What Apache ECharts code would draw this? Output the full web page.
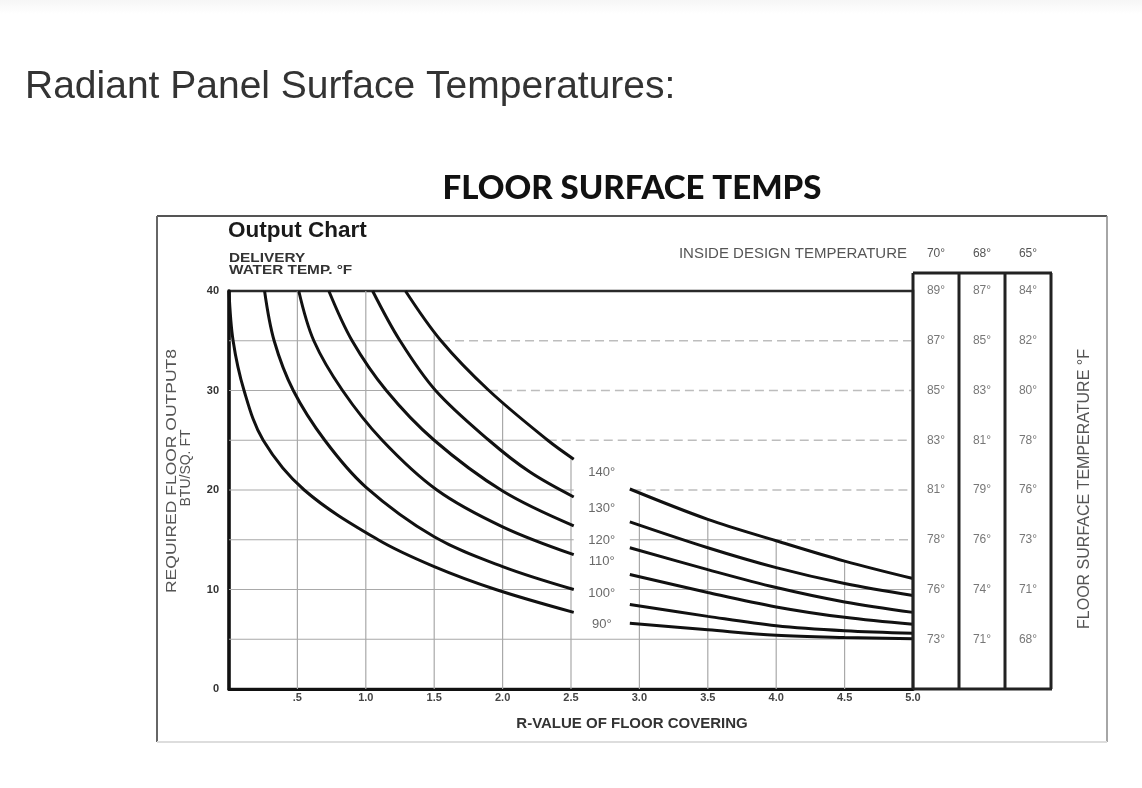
<!DOCTYPE html>
<html><head><meta charset="utf-8">
<script src="https://cdn.jsdelivr.net/npm/echarts/dist/echarts.min.js"></script>
<style>html,body{margin:0;padding:0;background:#fff}#c{width:1142px;height:788px}</style>
</head><body><div id="c"></div>
<script>
// ---------- data ----------
const waterTemps = [90, 100, 110, 120, 130, 140];
// left section of curves (R-value, BTU/sq.ft)
const upper90  = [[0,40],[0.03,35],[0.11,30],[0.25,25],[0.55,20],[1.09,15],[1.5,12.3],[1.95,10],[2.52,7.7]];
const upper100 = [[0.26,40],[0.33,35],[0.47,30],[0.7,25],[1.0,20.3],[1.5,15.3],[2.0,12.3],[2.52,10.0]];
const upper110 = [[0.51,40],[0.62,35],[0.83,30],[1.12,25],[1.52,20],[2.0,16.3],[2.52,13.5]];
const upper120 = [[0.73,40],[0.9,35],[1.15,30],[1.5,25],[2.0,19.9],[2.52,16.4]];
const upper130 = [[1.05,40],[1.25,35],[1.51,30],[1.9,25],[2.2,21.8],[2.52,19.3]];
const upper140 = [[1.29,40],[1.55,35],[1.9,30],[2.33,25],[2.52,23.1]];
// right section of curves
const lower90  = [[2.93,6.6],[3.5,5.95],[4.0,5.4],[4.5,5.17],[5.0,5.05]];
const lower100 = [[2.93,8.5],[3.5,7.3],[4.0,6.35],[4.5,5.85],[5.0,5.6]];
const lower110 = [[2.93,11.5],[3.5,9.7],[4.0,8.25],[4.5,7.2],[5.0,6.5]];
const lower120 = [[2.93,14.2],[3.5,12.0],[4.0,10.2],[4.5,8.75],[5.0,7.7]];
const lower130 = [[2.93,16.8],[3.5,14.2],[4.0,12.2],[4.5,10.6],[5.0,9.4]];
const lower140 = [[2.93,20.1],[3.5,17.05],[4.0,14.9],[4.5,12.85],[5.0,11.1]];
// curve label positions (BTU/sq.ft)
const curveLabelY = [6.5, 9.6, 12.8, 14.9, 18.1, 21.8];
// table: inside design temperatures and floor surface temps per output row
const insideTemps = ['70°', '68°', '65°'];
const outputRows = [40, 35, 30, 25, 20, 15, 10, 5];
const surface70 = [89, 87, 85, 83, 81, 78, 76, 73];
const surface68 = [87, 85, 83, 81, 79, 76, 74, 71];
const surface65 = [84, 82, 80, 78, 76, 73, 71, 68];
const gridLevelsY = [5, 10, 15, 20, 25, 30, 35];
const gridLevelsX = [0.5, 1.0, 1.5, 2.0, 2.5, 3.0, 3.5, 4.0, 4.5];

// ---------- helpers ----------
const upperCurves = [upper90, upper100, upper110, upper120, upper130, upper140];
const lowerCurves = [lower90, lower100, lower110, lower120, lower130, lower140];
function valAt(c, x) {
  if (x < c[0][0] || x > c[c.length-1][0]) return null;
  for (let i = 0; i < c.length-1; i++) {
    const a = c[i], b = c[i+1];
    if (x >= a[0] && x <= b[0]) return a[1] + (b[1]-a[1])*(x-a[0])/(b[0]-a[0]);
  }
  return null;
}
function crossAt(c, L) {
  for (let i = 0; i < c.length-1; i++) {
    const a = c[i], b = c[i+1];
    if ((a[1]-L)*(b[1]-L) <= 0 && a[1] !== b[1]) return a[0] + (b[0]-a[0])*(a[1]-L)/(a[1]-b[1]);
  }
  return null;
}
const XMAX = 5, YMAX = 40;
const GRID_COL = '#a9a9a9';
const seriesList = [];
function seg(x0, x1, y0, y1, dashed) {
  seriesList.push({type:'line', silent:true, symbol:'none', z:1, animation:false,
    data:[[x0,y0],[x1,y1]],
    lineStyle:{color: dashed ? '#bdbdbd' : GRID_COL, width: dashed ? 1.3 : 1.2, type: dashed ? [9,5] : 'solid'}});
}
const topUp = upper140, topLow = lower140;
const upEnd = topUp[topUp.length-1], lowStart = topLow[0];
gridLevelsY.forEach(L => {
  if (L < lower90[0][1]) { seg(0, XMAX, L, L, false); return; }
  if (L <= upEnd[1]) seg(0, upEnd[0], L, L, false);
  else { const xc = crossAt(topUp, L); seg(0, xc, L, L, false); seg(xc, XMAX, L, L, true); }
  if (L <= lowStart[1]) {
    const xc2 = crossAt(topLow, L);
    if (xc2 === null) seg(lowStart[0], XMAX, L, L, false);
    else { seg(lowStart[0], xc2, L, L, false); seg(xc2, XMAX, L, L, true); }
  }
});
gridLevelsX.forEach(X => {
  let t = valAt(topUp, X);
  if (t === null) t = valAt(topLow, X);
  if (t === null) t = (X < upEnd[0]) ? YMAX : null;
  if (t === null) t = Math.min(valAt(topUp, upEnd[0]), YMAX);
  seg(X, X, 0, Math.min(t, YMAX), false);
});
upperCurves.concat(lowerCurves).forEach(c => {
  seriesList.push({type:'line', silent:true, symbol:'none', z:3, animation:false,
    smooth:0.35, data:c, lineStyle:{color:'#111', width:3}});
});
const labelX = (upEnd[0] + lowStart[0]) / 2;
seriesList.push({type:'scatter', silent:true, z:4, symbolSize:1, itemStyle:{color:'rgba(0,0,0,0)'},
  data: waterTemps.map((t,i) => [labelX, curveLabelY[i], t]),
  label:{show:true, position:'inside', formatter:p => p.value[2] + '°',
    color:'#444', fontSize:13, fontFamily:'"Liberation Sans", Arial, sans-serif'}});
const tableCols = [surface70, surface68, surface65];
const tableData = [];
tableCols.forEach((col, ci) => col.forEach((v, ri) => tableData.push([ci, outputRows[ri], v])));
seriesList.push({type:'scatter', silent:true, z:4, xAxisIndex:1, yAxisIndex:1, symbolSize:1,
  itemStyle:{color:'rgba(0,0,0,0)'}, data:tableData,
  label:{show:true, position:'inside', formatter:p => p.value[2] + '°',
    color:'#555', fontSize:12, fontFamily:'"Liberation Sans", Arial, sans-serif'}});

// ---------- graphics (frame & text) ----------
const SANS = '"Liberation Sans", Arial, sans-serif';
function txt(x, y, text, font, fill, align, rot, sx) {
  return {type:'text', x:x, y:y, rotation: rot || 0, scaleX: sx || 1, silent:true, z:10,
    style:{text:text, font:font, fill:fill, textAlign:align||'left', align:align||'left',
      textVerticalAlign:'middle', verticalAlign:'middle'}};
}
function ln(x1, y1, x2, y2, stroke, w) {
  return {type:'line', silent:true, z:9, shape:{x1:x1,y1:y1,x2:x2,y2:y2}, style:{stroke:stroke, lineWidth:w}};
}
const graphicList = [
  {type:'rect', silent:true, z:0, shape:{x:0, y:0, width:1142, height:14},
    style:{fill:{type:'linear', x:0, y:0, x2:0, y2:1, colorStops:[{offset:0, color:'#f6f6f6'},{offset:1, color:'#ffffff'}]}}},
  txt(25, 87, 'Radiant Panel Surface Temperatures:', '39px ' + SANS, '#333'),
  txt(632, 188, 'FLOOR SURFACE TEMPS', '900 33px Lato, "DejaVu Sans", sans-serif', '#111', 'center'),
  ln(157, 216, 1107, 216, '#555', 2),
  ln(157, 216, 157, 742, '#666', 2),
  ln(1107, 216, 1107, 742, '#888', 1.5),
  ln(157, 742, 1107, 742, '#ddd', 2),
  txt(228, 231, 'Output Chart', 'bold 22.5px ' + SANS, '#1a1a1a'),
  txt(229, 258, 'DELIVERY', 'bold 13px ' + SANS, '#333', 'left', 0, 1.18),
  txt(229, 270, 'WATER TEMP. °F', 'bold 13px ' + SANS, '#333', 'left', 0, 1.18),
  txt(907, 254, 'INSIDE DESIGN TEMPERATURE', '15px ' + SANS, '#555', 'right'),
  txt(632, 724, 'R-VALUE OF FLOOR COVERING', 'bold 15px ' + SANS, '#333', 'center'),
  txt(172, 471, 'REQUIRED FLOOR OUTPUT8', '14px ' + SANS, '#555', 'center', Math.PI/2, 1.25),
  txt(186, 468, 'BTU/SQ. FT', '14px ' + SANS, '#555', 'center', Math.PI/2),
  txt(1085, 489, 'FLOOR SURFACE TEMPERATURE °F', '16px ' + SANS, '#555', 'center', Math.PI/2),
  // table frame
  ln(913, 273, 1052, 273, '#222', 3),
  ln(913, 273, 913, 689, '#222', 3),
  ln(959, 273, 959, 689, '#222', 3),
  ln(1005, 273, 1005, 689, '#222', 3),
  ln(1051, 273, 1051, 689, '#222', 3),
  ln(913, 689, 1052, 689, '#222', 3)
];

const chart = echarts.init(document.getElementById('c'), null, {renderer:'canvas'});
chart.setOption({
  animation:false,
  backgroundColor:'#fff',
  grid:[
    {left:229, top:291, width:684, height:398, show:true, borderColor:'#2a2a2a', borderWidth:2.5, backgroundColor:'transparent'},
    {left:913, top:291, width:138, height:398, show:false}
  ],
  xAxis:[
    {type:'value', gridIndex:0, min:0, max:XMAX, interval:0.5,
      axisLine:{show:true, lineStyle:{color:'#111', width:3}}, axisTick:{show:false}, splitLine:{show:false},
      axisLabel:{margin:3, color:'#444', fontSize:11, fontWeight:'bold', fontFamily:SANS,
        formatter:v => v === 0 ? '' : (v === 0.5 ? '.5' : v.toFixed(1))}},
    {type:'category', gridIndex:1, data:insideTemps, position:'top', boundaryGap:true,
      axisLine:{show:false}, axisTick:{show:false}, splitLine:{show:false},
      axisLabel:{margin:31, color:'#555', fontSize:12, fontFamily:SANS}}
  ],
  yAxis:[
    {type:'value', gridIndex:0, min:0, max:YMAX, interval:10,
      axisLine:{show:true, lineStyle:{color:'#111', width:3.5}}, axisTick:{show:false}, splitLine:{show:false},
      axisLabel:{margin:10, color:'#333', fontSize:11, fontWeight:'bold', fontFamily:SANS}},
    {type:'value', gridIndex:1, min:0, max:YMAX, show:false}
  ],
  graphic:graphicList,
  series:seriesList
});
</script></body></html>
